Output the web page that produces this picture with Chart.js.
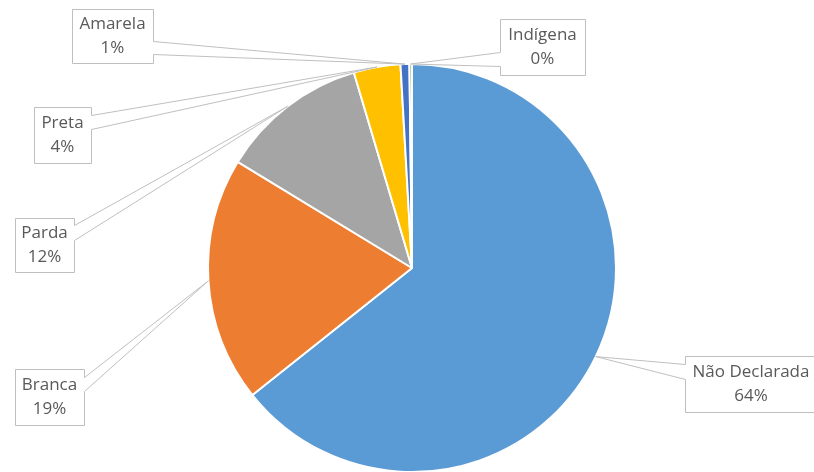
<!DOCTYPE html>
<html>
<head>
<meta charset="utf-8">
<script src="https://cdn.jsdelivr.net/npm/chart.js@4"></script>
<style>
  html, body { margin: 0; padding: 0; background: #ffffff; }
  canvas { display: block; }
</style>
</head>
<body>
<canvas id="c" width="814" height="472"></canvas>
<script>
// ---- data ----
const categories = ["Não Declarada", "Branca", "Parda", "Preta", "Amarela", "Indígena"];
const values = [64.3, 19.4, 11.7, 3.7, 0.7, 0.2];
const colors = ["#5B9BD5", "#ED7D31", "#A5A5A5", "#FFC000", "#4472C4", "#70AD47"];

// ---- callout layout (positions only) ----
const calloutLayout = [
  { x: 685, y: 356, w: 134, h: 56, side: "left",  b1: 8,  b2: 23 },
  { x: 15,  y: 369, w: 69,  h: 56, side: "right", b1: 8,  b2: 22 },
  { x: 15,  y: 218, w: 59,  h: 54, side: "right", b1: 7,  b2: 22 },
  { x: 34,  y: 107, w: 57,  h: 56, side: "right", b1: 8,  b2: 22 },
  { x: 72,  y: 9,   w: 81,  h: 54, side: "right", b1: 32, b2: 45 },
  { x: 500, y: 19,  w: 85,  h: 56, side: "left",  b1: 33, b2: 47 }
];

const calloutPlugin = {
  id: "callouts",
  afterDatasetsDraw(chart) {
    const ctx = chart.ctx;
    const meta = chart.getDatasetMeta(0);
    const ds = chart.data.datasets[0].data;
    const total = ds.reduce((a, b) => a + b, 0);
    ctx.save();
    meta.data.forEach((arc, i) => {
      const L = calloutLayout[i];
      const p = arc.getProps(["x", "y", "startAngle", "endAngle", "outerRadius"], true);
      const mid = (p.startAngle + p.endAngle) / 2;
      const tx = p.x + Math.cos(mid) * p.outerRadius;
      const ty = p.y + Math.sin(mid) * p.outerRadius;
      const x0 = L.x + 0.5, y0 = L.y + 0.5, x1 = L.x + L.w + 0.5, y1 = L.y + L.h + 0.5;
      ctx.beginPath();
      if (L.side === "right") {
        ctx.moveTo(x0, y0);
        ctx.lineTo(x1, y0);
        ctx.lineTo(x1, y0 + L.b1);
        ctx.lineTo(tx, ty);
        ctx.lineTo(x1, y0 + L.b2);
        ctx.lineTo(x1, y1);
        ctx.lineTo(x0, y1);
        ctx.closePath();
      } else {
        ctx.moveTo(x1, y0);
        ctx.lineTo(x0, y0);
        ctx.lineTo(x0, y0 + L.b1);
        ctx.lineTo(tx, ty);
        ctx.lineTo(x0, y0 + L.b2);
        ctx.lineTo(x0, y1);
        ctx.lineTo(x1, y1);
        ctx.closePath();
      }
      ctx.fillStyle = "#ffffff";
      ctx.fill();
      ctx.strokeStyle = "#BFBFBF";
      ctx.lineWidth = 1;
      ctx.stroke();
      const cx = L.x + L.w / 2;
      const cy = L.y + L.h / 2;
      ctx.fillStyle = "#595959";
      ctx.font = "17px 'Open Sans'";
      ctx.textAlign = "center";
      ctx.textBaseline = "middle";
      let tcx = cx;
      if (i === 0) tcx = L.x + 8 + 58;
      ctx.fillText(chart.data.labels[i], tcx, cy - 12);
      ctx.fillText(Math.round(ds[i] / total * 100) + "%", tcx, cy + 12);
    });
    ctx.restore();
  }
};

new Chart(document.getElementById("c"), {
  type: "pie",
  data: {
    labels: categories,
    datasets: [{
      data: values,
      backgroundColor: colors,
      borderColor: "#ffffff",
      borderWidth: 2,
      hoverOffset: 0
    }]
  },
  options: {
    responsive: false,
    animation: false,
    radius: 204,
    layout: { padding: { left: 10, top: 64, right: 0, bottom: 0 } },
    plugins: {
      legend: { display: false },
      tooltip: { enabled: false },
      title: { display: false }
    }
  },
  plugins: [calloutPlugin]
});
</script>
</body>
</html>
